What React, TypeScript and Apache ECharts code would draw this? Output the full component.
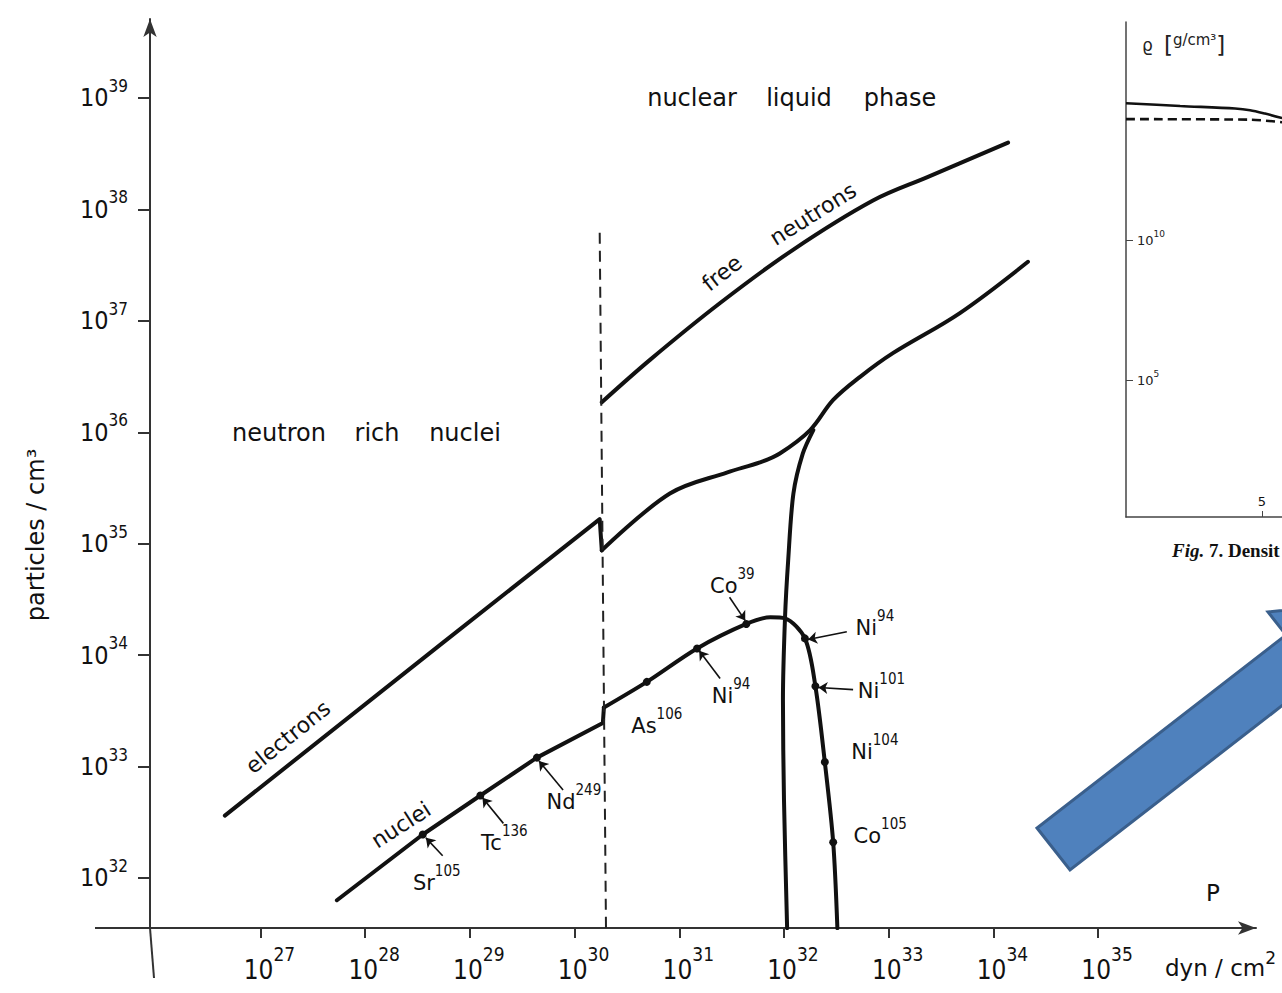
import React, { useEffect, useRef } from "react";
import * as echarts from "echarts";

// ---------- data (main diagram: log10 P [dyn/cm^2], log10 n [particles/cm^3]) ----------
const xTickExponents = [27, 28, 29, 30, 31, 32, 33, 34, 35];
const yTickExponents = [32, 33, 34, 35, 36, 37, 38, 39];

const electronsLow = [[26.66, 32.56], [28.74, 34.11], [30.24, 35.22], [30.26, 34.94]];
const electronsHigh = [
  [30.26, 34.94], [30.91, 35.45], [31.46, 35.64], [31.77, 35.73], [31.96, 35.81], [32.25, 36.02],
  [32.47, 36.29], [32.73, 36.5], [33.04, 36.71], [33.68, 37.07], [34.33, 37.53],
];
const freeNeutrons = [
  [30.26, 36.27], [30.72, 36.65], [31.39, 37.16], [32.09, 37.64], [32.85, 38.08], [33.37, 38.29], [34.14, 38.6],
];
const nucleiLow = [
  [27.73, 31.8], [28.55, 32.39], [29.1, 32.74], [29.64, 33.08], [30.27, 33.39], [30.28, 33.53],
];
const nucleiHigh = [
  [30.28, 33.53], [30.69, 33.76], [31.17, 34.06], [31.64, 34.28], [31.87, 34.34], [32.01, 34.33],
  [32.2, 34.15], [32.3, 33.72], [32.39, 33.04], [32.47, 32.32], [32.51, 31.55],
];
const dripBranch = [
  [32.03, 31.55], [32.0, 32.7], [31.99, 33.6], [32.01, 34.34], [32.04, 34.85], [32.09, 35.45],
  [32.18, 35.81], [32.28, 36.02],
];
const phaseBoundary = [[30.24, 37.79], [30.3, 31.55]];

const nuclideNames = ["Sr", "Tc", "Nd", "As", "Ni", "Co", "Ni", "Ni", "Ni", "Co"];
const nuclideMass = [105, 136, 249, 106, 94, 39, 94, 101, 104, 105];
const nuclidePoints = [
  [28.55, 32.39], [29.1, 32.74], [29.64, 33.08], [30.69, 33.76], [31.17, 34.06],
  [31.64, 34.28], [32.2, 34.15], [32.3, 33.72], [32.39, 33.04], [32.47, 32.32],
];
// pointer arrows: [from, to] in the same log coordinates
const pointerArrows = [
  [[28.74, 32.2], [28.58, 32.36]],
  [[29.32, 32.49], [29.12, 32.72]],
  [[29.89, 32.79], [29.66, 33.05]],
  [[31.39, 33.79], [31.19, 34.04]],
  [[31.48, 34.52], [31.63, 34.31]],
  [[32.6, 34.21], [32.23, 34.14]],
  [[32.66, 33.69], [32.33, 33.71]],
];

// ---------- inset (cropped density profile) ----------
const insetXTicks = [5];
const insetYTickExponents = [5, 10];
const insetSolid = [[0, 14.89], [1.99, 14.79], [4.01, 14.7], [4.56, 14.64], [5.11, 14.52], [5.74, 14.36]];
const insetDashed = [[0, 14.32], [4.56, 14.3], [5.74, 14.21]];

// ---------- layout / style ----------
const p10 = (e: number) => Math.pow(10, e);
const toVals = (arr: number[][]) => arr.map((d) => [p10(d[0]), p10(d[1])]);
const INK = "#111111";
const AX = "#333";
const FONT = "'DejaVu Sans', 'Liberation Sans', sans-serif";
const NUM = "'Liberation Sans Narrow', 'DejaVu Sans Condensed', 'Liberation Sans', sans-serif";
const labelOffsets = [
  [14, 48], [24, 47], [37, 44], [10, 44], [34, 48], [-14, -38], [70, -10], [66, 5], [50, -10], [47, -6],
];

// superscript via line heights: big token is tall, small token sits at the top
const supRich = (big: number, small: number, raise: number, family: string, fillKey = "color") => ({
  p: { width: 18, fontSize: big },
  b: { fontSize: big, lineHeight: small + 2 * raise, verticalAlign: "middle", fontFamily: family, [fillKey]: INK },
  s: { fontSize: small, lineHeight: small, verticalAlign: "top", fontFamily: family, [fillKey]: INK },
});

export default function App() {
  const ref = useRef<HTMLDivElement>(null);
  useEffect(() => {
    if (!ref.current) return;
    const chart = echarts.init(ref.current, null, { renderer: "svg" });
    const lineSeries = (data: number[][], smooth: number | boolean, extra: any = {}) => ({
      type: "line",
      xAxisIndex: 0,
      yAxisIndex: 0,
      data: toVals(data),
      smooth,
      symbol: "none",
      showSymbol: false,
      lineStyle: { color: INK, width: 4, cap: "round", join: "round" },
      silent: true,
      ...extra,
    });
    const expOf = (v: number) => Math.round(Math.log10(v));

    const text = (t: string, x: number, y: number, rot = 0, size = 24, extra: any = {}) => ({
      type: "text",
      x,
      y,
      rotation: rot,
      z: 10,
      style: { text: t, fontSize: size, fontFamily: FONT, fill: INK, align: "center", verticalAlign: "middle", ...extra },
    });

    const option: any = {
      animation: false,
      backgroundColor: "#fff",
      grid: [
        { left: 150, right: 26, top: 19, bottom: 65 },
        { left: 1126, right: 0, top: 22, bottom: 476 },
      ],
      xAxis: [
        {
          type: "log",
          logBase: 10,
          gridIndex: 0,
          min: p10(25.945),
          max: p10(36.508),
          axisLine: { show: true, lineStyle: { color: AX, width: 2 }, symbol: ["none", "arrow"], symbolSize: [10, 18] },
          axisTick: { show: true, length: 10, lineStyle: { color: AX, width: 2 }, customValues: xTickExponents.map(p10) },
          axisLabel: {
            customValues: xTickExponents.map(p10),
            margin: 16,
            formatter: (v: number) => `{p| }{b|10}{s|${expOf(v)}}`,
            rich: supRich(26, 19, 16, NUM),
          },
          splitLine: { show: false },
          minorTick: { show: false },
        },
        {
          type: "value",
          gridIndex: 1,
          min: 0,
          max: 5.735,
          axisLine: { show: true, lineStyle: { color: "#444", width: 1.5 } },
          axisTick: { show: true, inside: true, length: 6, lineStyle: { color: "#444" }, customValues: insetXTicks },
          axisLabel: { inside: true, customValues: insetXTicks, margin: 9, fontSize: 13, fontFamily: FONT, color: INK },
          splitLine: { show: false },
        },
      ],
      yAxis: [
        {
          type: "log",
          logBase: 10,
          gridIndex: 0,
          min: p10(31.551),
          max: p10(39.709),
          axisLine: { show: true, lineStyle: { color: AX, width: 2 }, symbol: ["none", "arrow"], symbolSize: [10, 18] },
          axisTick: { show: true, length: 12, lineStyle: { color: AX, width: 2 }, customValues: yTickExponents.map(p10) },
          axisLabel: {
            customValues: yTickExponents.map(p10),
            margin: 22,
            align: "right",
            formatter: (v: number) => `{b|10}{s|${expOf(v)}}`,
            rich: supRich(25, 17, 12, NUM),
          },
          splitLine: { show: false },
          minorTick: { show: false },
        },
        {
          type: "log",
          logBase: 10,
          gridIndex: 1,
          min: p10(0.107),
          max: p10(17.79),
          axisLine: { show: true, lineStyle: { color: "#444", width: 1.5 } },
          axisTick: { show: true, inside: true, length: 7, lineStyle: { color: "#444" }, customValues: insetYTickExponents.map(p10) },
          axisLabel: {
            inside: true,
            margin: 11,
            customValues: insetYTickExponents.map(p10),
            formatter: (v: number) => `{b|10}{s|${expOf(v)}}`,
            rich: {
              b: { fontSize: 13, lineHeight: 21, verticalAlign: "middle", fontFamily: FONT, color: "#222" },
              s: { fontSize: 9, lineHeight: 9, verticalAlign: "top", fontFamily: FONT, color: "#222" },
            },
          },
          splitLine: { show: false },
        },
      ],
      series: [
        lineSeries(electronsLow, false),
        lineSeries(electronsHigh, 0.35),
        lineSeries(freeNeutrons, 0.35),
        lineSeries(nucleiLow, false),
        lineSeries(nucleiHigh, 0.3),
        lineSeries(dripBranch, 0.3),
        lineSeries(phaseBoundary, false, { lineStyle: { color: "#222", width: 2, type: [11, 7] } }),
        {
          type: "lines",
          coordinateSystem: "cartesian2d",
          xAxisIndex: 0,
          yAxisIndex: 0,
          symbol: ["none", "arrow"],
          symbolSize: 9,
          lineStyle: { color: INK, width: 1.6, opacity: 1, curveness: 0 },
          silent: true,
          data: pointerArrows.map((a) => ({ coords: toVals(a) })),
        },
        {
          type: "scatter",
          xAxisIndex: 0,
          yAxisIndex: 0,
          symbol: "circle",
          symbolSize: 8,
          itemStyle: { color: INK, opacity: 1 },
          silent: true,
          z: 5,
          data: nuclidePoints.map((pt, i) => ({
            value: [p10(pt[0]), p10(pt[1])],
            label: {
              show: true,
              position: "inside",
              offset: labelOffsets[i],
              formatter: `{e|${nuclideNames[i]}}{m|${nuclideMass[i]}}`,
            },
          })),
          label: {
            color: INK,
            opacity: 1,
            textBorderWidth: 0,
            rich: {
              e: { fontSize: 21, lineHeight: 39, verticalAlign: "middle", fontFamily: FONT, color: INK, textBorderWidth: 0 },
              m: { fontSize: 15, lineHeight: 15, verticalAlign: "top", fontFamily: NUM, color: INK, textBorderWidth: 0 },
            },
          },
        },
        {
          type: "line",
          xAxisIndex: 1,
          yAxisIndex: 1,
          data: toValsInset(insetSolid),
          smooth: 0.3,
          symbol: "none",
          lineStyle: { color: INK, width: 2.6 },
          silent: true,
        },
        {
          type: "line",
          xAxisIndex: 1,
          yAxisIndex: 1,
          data: toValsInset(insetDashed),
          smooth: 0.3,
          symbol: "none",
          lineStyle: { color: INK, width: 2.6, type: [9, 5] },
          silent: true,
        },
      ],
      graphic: [
        { type: "line", shape: { x1: 95, y1: 928, x2: 150, y2: 928 }, style: { stroke: AX, lineWidth: 2 } },
        { type: "line", shape: { x1: 150, y1: 928, x2: 154, y2: 978 }, style: { stroke: AX, lineWidth: 2 } },
        text("nuclear", 692, 98),
        text("liquid", 799, 98),
        text("phase", 900, 98),
        text("neutron", 279, 433),
        text("rich", 377, 433),
        text("nuclei", 465, 433),
        text("electrons", 288, 737, 0.68, 22),
        text("nuclei", 401, 825, 0.57, 22),
        text("free", 722, 273, 0.66, 22),
        text("neutrons", 813, 214, 0.56, 22),
        text("particles / cm³", 36, 535, Math.PI / 2, 24),
        text("P", 1213, 893, 0, 23),
        {
          type: "text",
          x: 1165,
          y: 968,
          z: 10,
          style: {
            text: "{b|dyn / cm}{s|2}",
            align: "left",
            verticalAlign: "middle",
            rich: {
              b: { fontSize: 23, lineHeight: 37, verticalAlign: "middle", fontFamily: FONT, fill: INK },
              s: { fontSize: 17, lineHeight: 17, verticalAlign: "top", fontFamily: FONT, fill: INK },
            },
          },
        },
        {
          type: "text",
          x: 1142,
          y: 45,
          z: 10,
          style: {
            text: "{r|ϱ}{g|    }{br|[}{u|g/cm³}{br|]}",
            align: "left",
            verticalAlign: "middle",
            rich: {
              r: { fontSize: 17, lineHeight: 24, verticalAlign: "middle", fontFamily: FONT, fill: "#222" },
              g: { fontSize: 10 },
              br: { fontSize: 23, lineHeight: 26, verticalAlign: "middle", fontFamily: FONT, fill: "#222" },
              u: { fontSize: 15, lineHeight: 16, verticalAlign: "top", fontFamily: FONT, fill: "#222" },
            },
          },
        },
        {
          type: "text",
          x: 1172,
          y: 550,
          z: 10,
          style: {
            text: "{i|Fig.}{n| 7. Densit}",
            align: "left",
            verticalAlign: "middle",
            rich: {
              i: { fontSize: 19, fontStyle: "italic", fontWeight: "bold", fontFamily: "'Liberation Serif', 'DejaVu Serif', serif", fill: "#111" },
              n: { fontSize: 19, fontWeight: "bold", fontFamily: "'Liberation Serif', 'DejaVu Serif', serif", fill: "#111" },
            },
          },
        },
        {
          type: "polygon",
          z: 20,
          shape: {
            points: [
              [1037, 828], [1070, 870], [1319, 677], [1337, 700], [1374, 601], [1268, 612], [1286, 635],
            ],
          },
          style: { fill: "#4F81BD", stroke: "#3A5F8C", lineWidth: 3, lineJoin: "miter" },
        },
      ],
    };
    chart.setOption(option);
    return () => chart.dispose();
  }, []);
  return (
    <div
      ref={ref}
      style={{ position: "fixed", left: 0, top: 0, width: 1282, height: 993, background: "#fff" }}
    />
  );
}

function toValsInset(arr: number[][]) {
  return arr.map((d) => [d[0], Math.pow(10, d[1])]);
}
